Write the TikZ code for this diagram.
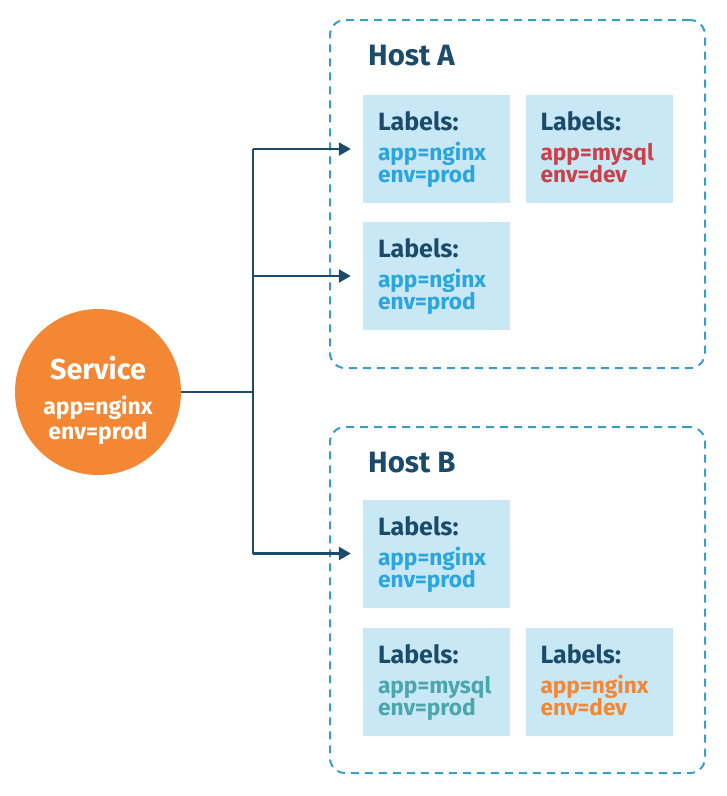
\documentclass[tikz,border=0pt]{standalone}
\usepackage{fontspec}
\setmainfont{Fira Sans}
\usetikzlibrary{arrows.meta}
\definecolor{dk}{HTML}{1B4B6B}
\definecolor{podbg}{HTML}{C9E8F5}
\definecolor{cy}{HTML}{2AA5DE}
\definecolor{rd}{HTML}{C8414B}
\definecolor{tl}{HTML}{4BA6AE}
\definecolor{og}{HTML}{F38733}
\definecolor{dash}{HTML}{3A9DC8}
\newcommand\mkpod[6]{%
  \node[podbox] (#1) at (#2,#3) {};
  \node[lbl] (#1l) at ([shift={(15,36)}]#1.north west) {Labels:};
  \node[val,text=#4] (#1a) at ([shift={(15,66)}]#1.north west) {#5};
  \node[val,text=#4] (#1e) at ([shift={(15,88)}]#1.north west) {#6};
}
\begin{document}
\begin{tikzpicture}[x=1pt,y=-1pt,
  podbox/.style={fill=podbg,draw=none,minimum width=147pt,minimum height=108pt,inner sep=0pt},
  lbl/.style={anchor=base west,inner sep=0pt,text=dk,font=\fontsize{25}{25}\selectfont\bfseries},
  val/.style={anchor=base west,inner sep=0pt,font=\fontsize{22.7}{23}\selectfont\bfseries},
  host/.style={draw=dash,line width=2pt,dash pattern=on 8pt off 6pt,rounded corners=15pt,minimum width=375pt,inner sep=0pt},
  hosttitle/.style={anchor=base west,inner sep=0pt,text=dk,font=\fontsize{29.4}{29}\selectfont\bfseries},
  conn/.style={draw=dk,line width=2.5pt},
  arr/.style={conn,-{Triangle[length=12pt,width=13pt]}}]
\useasboundingbox (0,0) rectangle (727,796);
% hosts
\node[host,minimum height=348pt] (ha) at (517.5,194) {};
\node[host,minimum height=346pt] (hb) at (517.5,600) {};
\node[hosttitle] (hat) at (368,65) {Host A};
\node[hosttitle] (hbt) at (368,472) {Host B};
% pods
\mkpod{a1}{436.5}{149}{cy}{app=nginx}{env=prod}
\mkpod{a2}{599}{149}{rd}{app=mysql}{env=dev}
\mkpod{a3}{436.5}{276}{cy}{app=nginx}{env=prod}
\mkpod{b1}{436.5}{553.5}{cy}{app=nginx}{env=prod}
\mkpod{b2}{436.5}{682}{tl}{app=mysql}{env=prod}
\mkpod{b3}{599}{682}{og}{app=nginx}{env=dev}
% service
\node[circle,fill=og,minimum size=166pt,inner sep=0pt] (svc) at (98,392) {};
\node[anchor=base,inner sep=0pt,text=white,font=\fontsize{28.8}{29}\selectfont\bfseries] (svct) at (98,379) {Service};
\node[anchor=base,inner sep=0pt,text=white,font=\fontsize{23}{23}\selectfont\bfseries] (svca) at (98,414) {app=nginx};
\node[anchor=base,inner sep=0pt,text=white,font=\fontsize{23}{23}\selectfont\bfseries] (svce) at (98,439) {env=prod};
% connectors
\coordinate (j) at (253,392);
\draw[conn] (svc.east) -- (j);
\draw[conn] (j |- a1.west) -- (j |- b1.west);
\draw[arr] (j |- a1.west) -- ([xshift=-12pt]a1.west);
\draw[arr] (j |- a3.west) -- ([xshift=-12pt]a3.west);
\draw[arr] (j |- b1.west) -- ([xshift=-12pt]b1.west);
\end{tikzpicture}
\end{document}
